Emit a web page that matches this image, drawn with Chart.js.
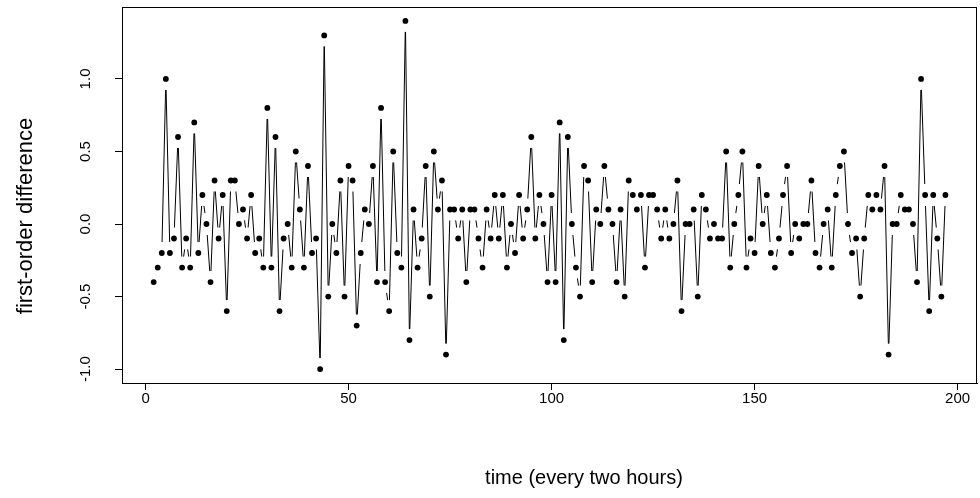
<!DOCTYPE html>
<html>
<head>
<meta charset="utf-8">
<script src="https://cdn.jsdelivr.net/npm/chart.js@4.4.1/dist/chart.umd.min.js"></script>
<style>
  html, body { margin: 0; padding: 0; background: #fff; }
  #wrap { position: relative; width: 980px; height: 498px; }
</style>
</head>
<body>
<div id="wrap"><canvas id="chart"></canvas></div>
<script>
// first-order differences, one reading every two hours, starting at t = 2
const startTime = 2;
const diffs = [
  -0.4, -0.3, -0.2, 1.0, -0.2, -0.1, 0.6, -0.3, -0.1, -0.3,
   0.7, -0.2, 0.2, 0.0, -0.4, 0.3, -0.1, 0.2, -0.6, 0.3,
   0.3, 0.0, 0.1, -0.1, 0.2, -0.2, -0.1, -0.3, 0.8, -0.3,
   0.6, -0.6, -0.1, 0.0, -0.3, 0.5, 0.1, -0.3, 0.4, -0.2,
  -0.1, -1.0, 1.3, -0.5, 0.0, -0.2, 0.3, -0.5, 0.4, 0.3,
  -0.7, -0.2, 0.1, 0.0, 0.4, -0.4, 0.8, -0.4, -0.6, 0.5,
  -0.2, -0.3, 1.4, -0.8, 0.1, -0.3, -0.1, 0.4, -0.5, 0.5,
   0.1, 0.3, -0.9, 0.1, 0.1, -0.1, 0.1, -0.4, 0.1, 0.1,
  -0.1, -0.3, 0.1, -0.1, 0.2, -0.1, 0.2, -0.3, 0.0, -0.2,
   0.2, -0.1, 0.1, 0.6, -0.1, 0.2, 0.0, -0.4, 0.2, -0.4,
   0.7, -0.8, 0.6, 0.0, -0.3, -0.5, 0.4, 0.3, -0.4, 0.1,
   0.0, 0.4, 0.1, 0.0, -0.4, 0.1, -0.5, 0.3, 0.2, 0.1,
   0.2, -0.3, 0.2, 0.2, 0.1, -0.1, 0.1, -0.1, 0.0, 0.3,
  -0.6, 0.0, 0.0, 0.1, -0.5, 0.2, 0.1, -0.1, 0.0, -0.1,
  -0.1, 0.5, -0.3, 0.0, 0.2, 0.5, -0.3, -0.1, -0.2, 0.4,
   0.0, 0.2, -0.2, -0.3, -0.1, 0.2, 0.4, -0.2, 0.0, -0.1,
   0.0, 0.0, 0.3, -0.2, -0.3, 0.0, 0.1, -0.3, 0.2, 0.4,
   0.5, 0.0, -0.2, -0.1, -0.5, -0.1, 0.2, 0.1, 0.2, 0.1,
   0.4, -0.9, 0.0, 0.0, 0.2, 0.1, 0.1, 0.0, -0.4, 1.0,
   0.2, -0.6, 0.2, -0.1, -0.5, 0.2
];
const xTicks = [0, 50, 100, 150, 200];
const yTicks = [-1.0, -0.5, 0.0, 0.5, 1.0];
const xTitle = 'time (every two hours)';
const yTitle = 'first-order difference';

const points = diffs.map((v, i) => ({ x: startTime + i, y: v }));

// axis limits padded 4% beyond the data, the way base graphics does it
const xs = points.map(p => p.x), ys = points.map(p => p.y);
const pad = (lo, hi) => [lo - 0.04 * (hi - lo), hi + 0.04 * (hi - lo)];
const [xMin, xMax] = pad(Math.min(...xs), Math.max(...xs));
const [yMin, yMax] = pad(Math.min(...ys), Math.max(...ys));

const FONT = "'Liberation Sans', Arial, Helvetica, sans-serif";

// line segments that stop short of each point (type "b" look)
const gappedLines = {
  id: 'gappedLines',
  beforeDatasetsDraw(chart, args, opts) {
    const pts = chart.getDatasetMeta(0).data;
    const ctx = chart.ctx;
    ctx.save();
    ctx.strokeStyle = opts.color;
    ctx.lineWidth = opts.width;
    ctx.beginPath();
    for (let i = 1; i < pts.length; i++) {
      const a = pts[i - 1], b = pts[i];
      const dx = b.x - a.x, dy = b.y - a.y, d = Math.hypot(dx, dy);
      if (d <= 2 * opts.gap) continue;
      const ux = dx / d, uy = dy / d;
      ctx.moveTo(a.x + ux * opts.gap, a.y + uy * opts.gap);
      ctx.lineTo(b.x - ux * opts.gap, b.y - uy * opts.gap);
    }
    ctx.stroke();
    ctx.restore();
  }
};

// full frame round the plotting region
const frame = {
  id: 'frame',
  afterDraw(chart) {
    const { ctx, chartArea: a } = chart;
    ctx.save();
    ctx.strokeStyle = '#000';
    ctx.lineWidth = 1;
    ctx.strokeRect(Math.round(a.left) + 0.5, Math.round(a.top) + 0.5,
                   Math.round(a.right) - Math.round(a.left) - 1, Math.round(a.bottom) - Math.round(a.top));
    ctx.restore();
  }
};

// axis titles, set in the outer margins
const axisTitles = {
  id: 'axisTitles',
  afterDraw(chart, args, opts) {
    const ctx = chart.ctx;
    ctx.save();
    ctx.fillStyle = '#000';
    ctx.textAlign = 'center';

    ctx.font = `${opts.xSize}px ${FONT}`;
    ctx.textBaseline = 'middle';
    ctx.fillText(xTitle, opts.xAt[0], opts.xAt[1]);

    ctx.font = `${opts.ySize}px ${FONT}`;
    ctx.textBaseline = 'alphabetic';
    ctx.translate(opts.yAt[0], opts.yAt[1]);
    ctx.rotate(-Math.PI / 2);
    ctx.fillText(yTitle, 0, 0);
    ctx.restore();
  }
};

new Chart(document.getElementById('chart'), {
  type: 'line',
  data: {
    datasets: [{
      data: points,
      showLine: false,
      pointRadius: 2.9,
      pointHoverRadius: 2.9,
      pointBackgroundColor: '#000',
      pointBorderWidth: 0,
    }],
  },
  options: {
    responsive: true, maintainAspectRatio: false,
    animation: false,
    events: [],
    layout: { padding: { top: 7, right: 0, left: 0, bottom: 0 } },
    plugins: {
      legend: { display: false },
      tooltip: { enabled: false },
      gappedLines: { gap: 11, color: '#000', width: 1 },
      axisTitles: { xSize: 20, xAt: [584, 478], ySize: 22, yAt: [32, 216] },
    },
    scales: {
      x: {
        type: 'linear',
        min: xMin, max: xMax,
        afterFit: s => { s.height = 115; s.paddingLeft = 0; s.paddingRight = 0; },
        afterBuildTicks: s => { s.ticks = xTicks.map(v => ({ value: v })); },
        grid: { drawOnChartArea: false, drawTicks: true, tickLength: 7, color: '#000', tickWidth: 1 },
        border: { display: true, color: '#000', width: 1 },
        ticks: {
          color: '#000', padding: 0, maxRotation: 0, minRotation: 0,
          font: { family: FONT, size: 15 },
        },
        title: { display: false },
      },
      y: {
        type: 'linear',
        min: yMin, max: yMax,
        afterFit: s => { s.width = 122; s.paddingTop = 0; s.paddingBottom = 0; },
        afterBuildTicks: s => { s.ticks = yTicks.map(v => ({ value: v })); },
        grid: { drawOnChartArea: false, drawTicks: true, tickLength: 7, color: '#000', tickWidth: 1 },
        border: { display: true, color: '#000', width: 1 },
        ticks: {
          color: '#000', padding: 16, minRotation: 90, maxRotation: 90, crossAlign: 'center',
          font: { family: FONT, size: 15 },
          callback: v => v.toFixed(1),
        },
        title: { display: false },
      },
    },
  },
  plugins: [gappedLines, frame, axisTitles],
});
</script>
</body>
</html>
